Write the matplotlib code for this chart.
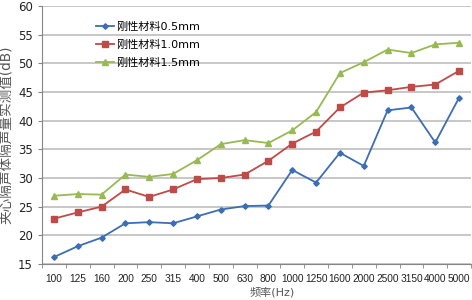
import matplotlib
matplotlib.use("Agg")
import matplotlib.pyplot as plt
import numpy as np

plt.rcParams['font.family'] = ['DejaVu Sans', 'Noto Sans CJK SC']

categories = ['100', '125', '160', '200', '250', '315', '400', '500', '630', '800',
              '1000', '1250', '1600', '2000', '2500', '3150', '4000', '5000']
s05 = [16.2, 18.1, 19.6, 22.1, 22.3, 22.1, 23.3, 24.5, 25.1, 25.2,
       31.4, 29.2, 34.4, 32.1, 41.8, 42.3, 36.2, 44.0]
s10 = [22.9, 24.0, 25.0, 28.0, 26.7, 28.0, 29.8, 30.0, 30.6, 33.0,
       36.0, 38.1, 42.3, 44.9, 45.3, 45.9, 46.3, 48.7]
s15 = [26.9, 27.2, 27.1, 30.6, 30.2, 30.7, 33.1, 35.9, 36.6, 36.1,
       38.3, 41.5, 48.3, 50.2, 52.4, 51.8, 53.3, 53.6]
labels = ['刚性材料0.5mm', '刚性材料1.0mm', '刚性材料1.5mm']
yticks = [15, 20, 25, 30, 35, 40, 45, 50, 55, 60]

fig = plt.figure(figsize=(4.72, 3.0), dpi=100)
ax = fig.add_axes([42/472, 1-264/300, 429/472, 258/300])

x = np.arange(len(categories))
ax.plot(x, s05, color='#3C6EB4', lw=1.3, marker='D', ms=2.8, label=labels[0])
ax.plot(x, s10, color='#BE4B48', lw=1.3, marker='s', ms=4, label=labels[1])
ax.plot(x, s15, color='#98B954', lw=1.3, marker='^', ms=4.3, label=labels[2])

ax.set_xlim(-0.5, len(categories) - 0.5)
ax.set_ylim(15, 60)
ax.set_yticks(yticks)
ax.set_xticks(x)
ax.set_xticklabels(categories, family=['Liberation Sans'])
ax.set_xticks(np.arange(-0.5, len(categories), 1), minor=True)
ax.tick_params(axis='x', which='major', length=0, labelsize=7.3, pad=7, colors='#222222')
ax.tick_params(axis='x', which='minor', length=3, color='#868686', direction='out')
ax.tick_params(axis='y', length=3, color='#868686', labelsize=8.5, colors='#222222')
ax.tick_params(axis='y', which='both', color='#868686')
ax.grid(axis='y', color='#BEBEBE', lw=1.2)
ax.set_axisbelow(True)
for s in ['top', 'right']:
    ax.spines[s].set_visible(False)
for s in ['left', 'bottom']:
    ax.spines[s].set_color('#868686')

ax.set_xlabel('频率(Hz)', fontsize=8, color='#555555', labelpad=2)
ax.xaxis.set_label_coords(0.536, -0.09)
ax.set_ylabel('夹心隔声体隔声量实测值(dB)', fontsize=9.8, color='#555555', labelpad=3)

leg = ax.legend(loc='upper left', bbox_to_anchor=(0.115, 0.957), frameon=False,
                fontsize=8, handlelength=1.6, handletextpad=0.2, labelspacing=0.75,
                borderaxespad=0)

fig.savefig('out.png', dpi=100)
